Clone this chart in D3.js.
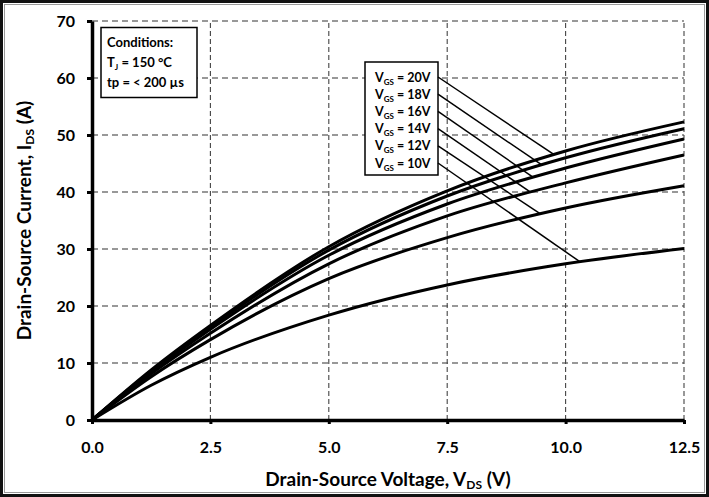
<!DOCTYPE html>
<html lang="en">
<head>
  <meta charset="UTF-8">
  <title>Output characteristics at 150 C</title>
  <script src="https://d3js.org/d3.v7.min.js"></script>
  <style>
    body { margin: 0; background: #fff; }
    svg { display: block; font-family: Lato, "Open Sans", sans-serif; font-weight: bold; }
  </style>
</head>
<body>
  <svg width="709" height="497"></svg>

  <script>
    const width = 709;
    const height = 497;
    const margin = { top: 21, right: 25, bottom: 77, left: 92 };

    // drain-source voltage sample points (V)
    const vds = [0, 1.25, 2.5, 5, 7.5, 10, 12.5];
    // gate voltages, top curve first
    const vgsLabels = ["20V", "18V", "16V", "14V", "12V", "10V"];
    // drain current (A) per gate voltage
    const ids20 = [0, 8.8, 16.6, 30.4, 40.2, 47.2, 52.3];
    const ids18 = [0, 8.6, 16.3, 29.8, 39.3, 46.0, 51.1];
    const ids16 = [0, 8.4, 15.9, 28.9, 37.9, 44.2, 49.3];
    const ids14 = [0, 8.1, 15.2, 27.4, 35.8, 41.6, 46.5];
    const ids12 = [0, 7.6, 14.1, 24.8, 32.0, 37.2, 41.1];
    const ids10 = [0, 6.1, 11.0, 18.4, 23.7, 27.4, 30.1];
    const series = [ids20, ids18, ids16, ids14, ids12, ids10];
    // where each legend leader line meets its curve (V)
    const leaderVds = [9.75, 9.49, 9.31, 9.25, 9.46, 10.3];

    const xTicks = [0, 2.5, 5, 7.5, 10, 12.5];
    const yTicks = [0, 10, 20, 30, 40, 50, 60, 70];

    const svg = d3.select("svg");

    // frame
    svg.append("rect")
      .attr("x", 1.5).attr("y", 1.5)
      .attr("width", width - 3).attr("height", height - 3)
      .attr("fill", "none").attr("stroke", "#111").attr("stroke-width", 3);
    svg.append("rect")
      .attr("x", 4.5).attr("y", 4.5)
      .attr("width", width - 9).attr("height", height - 9)
      .attr("fill", "none").attr("stroke", "#999").attr("stroke-width", 1);

    const xScale = d3.scaleLinear()
      .domain([0, 12.5])
      .range([margin.left, width - margin.right]);

    const yScale = d3.scaleLinear()
      .domain([0, 70])
      .range([height - margin.bottom, margin.top]);

    // grid
    svg.append("g")
      .selectAll("line")
      .data(yTicks.slice(1))
      .join("line")
      .attr("x1", xScale(0)).attr("x2", xScale(12.5))
      .attr("y1", d => yScale(d)).attr("y2", d => yScale(d))
      .attr("stroke", "#777").attr("stroke-width", 1.3)
      .attr("stroke-dasharray", "6,4");

    svg.append("g")
      .selectAll("line")
      .data(xTicks.slice(1))
      .join("line")
      .attr("x1", d => xScale(d)).attr("x2", d => xScale(d))
      .attr("y1", yScale(0)).attr("y2", yScale(70))
      .attr("stroke", "#444").attr("stroke-width", 1.1)
      .attr("stroke-dasharray", "5,3");

    // axes
    const xAxis = svg.append("g")
      .attr("transform", `translate(0,${yScale(0)})`)
      .call(d3.axisBottom(xScale).tickValues(xTicks).tickFormat(d3.format(".1f"))
        .tickSize(4).tickSizeOuter(0).tickPadding(18));
    xAxis.select(".domain").attr("stroke-width", 3.5);
    xAxis.selectAll(".tick line").attr("stroke-width", 3);
    xAxis.selectAll("text").attr("font-size", 16).attr("font-weight", "bold")
      .attr("font-family", "Lato, sans-serif").attr("fill", "#000");

    const yAxis = svg.append("g")
      .attr("transform", `translate(${xScale(0)},0)`)
      .call(d3.axisLeft(yScale).tickValues(yTicks).tickSize(5).tickSizeOuter(0).tickPadding(12));
    yAxis.select(".domain").attr("stroke-width", 3.5);
    yAxis.selectAll(".tick line").attr("stroke-width", 3);
    yAxis.selectAll("text").attr("font-size", 16).attr("font-weight", "bold")
      .attr("font-family", "Lato, sans-serif").attr("fill", "#000");

    // curves
    const line = d3.line()
      .x((d, i) => xScale(vds[i]))
      .y(d => yScale(d))
      .curve(d3.curveMonotoneX);

    const paths = svg.append("g")
      .selectAll("path")
      .data(series)
      .join("path")
      .attr("d", line)
      .attr("fill", "none")
      .attr("stroke", "#000")
      .attr("stroke-width", 3);

    // find the point of a path at a given x pixel
    function pointAtX(node, px) {
      let lo = 0, hi = node.getTotalLength();
      for (let k = 0; k < 40; k++) {
        const mid = (lo + hi) / 2;
        if (node.getPointAtLength(mid).x < px) lo = mid; else hi = mid;
      }
      return node.getPointAtLength(lo);
    }

    // legend box
    const legX = 365, legY = 62, legW = 73, legH = 113, rowH = 17.2;
    svg.append("rect")
      .attr("x", legX).attr("y", legY).attr("width", legW).attr("height", legH)
      .attr("fill", "#fff").attr("stroke", "#000").attr("stroke-width", 1.5);

    vgsLabels.forEach((lab, i) => {
      const cy = legY + 15 + i * rowH;
      const t = svg.append("text")
        .attr("x", legX + 10).attr("y", cy + 4.5)
        .attr("font-size", 12.5);
      t.append("tspan").text("V");
      t.append("tspan").attr("font-size", 8).attr("dy", 3).text("GS");
      t.append("tspan").attr("dy", -3).text(" = " + lab);

      const p = pointAtX(paths.nodes()[i], xScale(leaderVds[i]));
      svg.append("line")
        .attr("x1", legX + legW).attr("y1", cy)
        .attr("x2", p.x).attr("y2", p.y)
        .attr("stroke", "#000").attr("stroke-width", 1.5);
    });

    // conditions box
    svg.append("rect")
      .attr("x", 101).attr("y", 27.5).attr("width", 96).attr("height", 70)
      .attr("fill", "#fff").attr("stroke", "#000").attr("stroke-width", 1.5);
    const cond = svg.append("g").attr("font-size", 13);
    cond.append("text").attr("x", 107).attr("y", 47).text("Conditions:");
    const tj = cond.append("text").attr("x", 107).attr("y", 67);
    tj.append("tspan").text("T");
    tj.append("tspan").attr("font-size", 8).attr("dy", 3).text("J");
    tj.append("tspan").attr("dy", -3).text(" = 150 °C");
    cond.append("text").attr("x", 107).attr("y", 87).text("tp = < 200 µs");

    // axis titles
    const xt = svg.append("text")
      .attr("x", (xScale(0) + xScale(12.5)) / 2)
      .attr("y", 486)
      .attr("text-anchor", "middle")
      .attr("font-size", 19);
    xt.append("tspan").text("Drain-Source Voltage, V");
    xt.append("tspan").attr("font-size", 12).attr("dy", 3).text("DS");
    xt.append("tspan").attr("dy", -3).text(" (V)");

    const yt = svg.append("text")
      .attr("transform", `translate(31,${(yScale(0) + yScale(70)) / 2}) rotate(-90)`)
      .attr("text-anchor", "middle")
      .attr("font-size", 19);
    yt.append("tspan").text("Drain-Source Current, I");
    yt.append("tspan").attr("font-size", 12).attr("dy", 3).text("DS");
    yt.append("tspan").attr("dy", -3).text(" (A)");
  </script>
</body>
</html>
